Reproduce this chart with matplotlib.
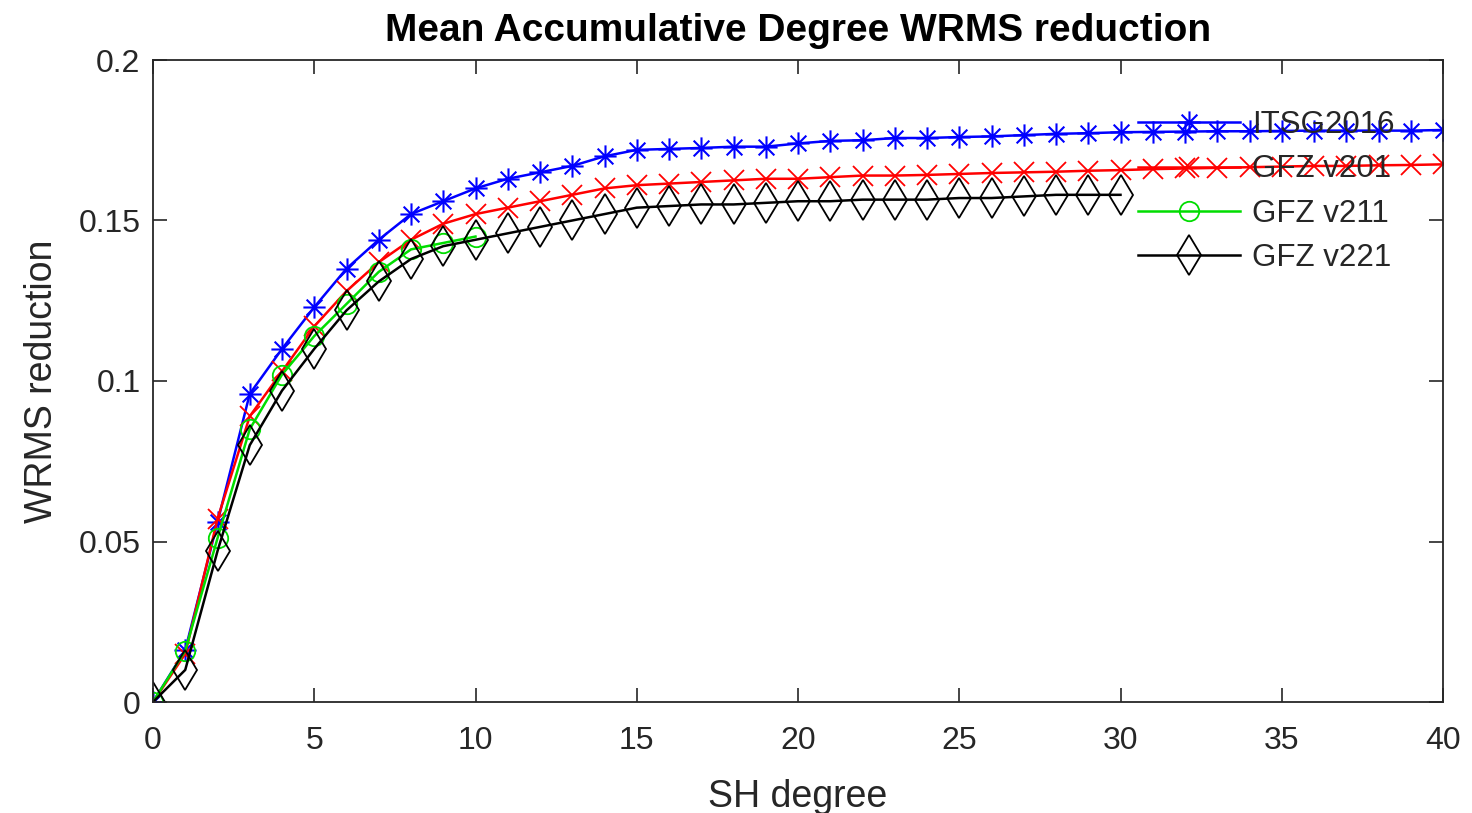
import numpy as np
import matplotlib
matplotlib.use("Agg")
import matplotlib.pyplot as plt
from matplotlib.path import Path

plt.rcParams['font.family'] = ['Liberation Sans', 'DejaVu Sans']

degree_itsg = list(range(0, 41))
itsg2016 = [0.0, 0.0162, 0.056, 0.096, 0.110, 0.123, 0.135, 0.144, 0.152, 0.156,
            0.160, 0.163, 0.165, 0.167, 0.170, 0.172, 0.1723, 0.1726, 0.173, 0.173,
            0.174, 0.1748, 0.175, 0.1757, 0.1757, 0.176, 0.1762, 0.1766, 0.177, 0.1772,
            0.1775, 0.1776, 0.1777, 0.1778, 0.1778, 0.1779, 0.178, 0.178, 0.178, 0.178, 0.1782]

degree_v201 = list(range(0, 41))
gfz_v201 = [0.0, 0.015, 0.057, 0.089, 0.103, 0.117, 0.128, 0.137, 0.144, 0.149,
            0.152, 0.154, 0.156, 0.158, 0.160, 0.161, 0.1615, 0.162, 0.1625, 0.163,
            0.163, 0.1635, 0.164, 0.164, 0.1642, 0.1645, 0.1648, 0.165, 0.1652, 0.1655,
            0.1657, 0.166, 0.1662, 0.1664, 0.1666, 0.1668, 0.167, 0.167, 0.1672, 0.1673, 0.1675]

degree_v211 = list(range(0, 11))
gfz_v211 = [0.0, 0.016, 0.051, 0.085, 0.102, 0.114, 0.124, 0.134, 0.141, 0.143, 0.145]

degree_v221 = list(range(0, 31))
gfz_v221 = [0.0, 0.010, 0.047, 0.080, 0.097, 0.110, 0.122, 0.131, 0.138, 0.142,
            0.144, 0.146, 0.148, 0.150, 0.152, 0.154, 0.1545, 0.155, 0.155, 0.1555,
            0.156, 0.156, 0.1565, 0.1565, 0.1565, 0.157, 0.157, 0.1575, 0.158, 0.158, 0.158]

labels = ['ITSG2016', 'GFZ v201', 'GFZ v211', 'GFZ v221']
title = 'Mean Accumulative Degree WRMS reduction'
xlabel = 'SH degree'
ylabel = 'WRMS reduction'
xticks = [0, 5, 10, 15, 20, 25, 30, 35, 40]
yticks = [0, 0.05, 0.1, 0.15, 0.2]
yticklabels = ['0', '0.05', '0.1', '0.15', '0.2']

# MATLAB-style asterisk marker
d = 0.7071
asterisk = Path(
    [(-1, 0), (1, 0), (0, -1), (0, 1), (-d, -d), (d, d), (-d, d), (d, -d)],
    [Path.MOVETO, Path.LINETO] * 4)

fig = plt.figure(figsize=(14.72, 8.13), dpi=100)
ax = fig.add_axes([153 / 1472, 111 / 813, 1290 / 1472, 642 / 813])

lw = 1.8
ax.plot(degree_itsg, itsg2016, color='#0000ff', lw=lw, marker=asterisk,
        markersize=16, markerfacecolor='none', markeredgewidth=1.5, label=labels[0])
ax.plot(degree_v201, gfz_v201, color='#ff0000', lw=lw, marker='x',
        markersize=14, markeredgewidth=1.3, label=labels[1])
ax.plot(degree_v211, gfz_v211, color='#00dd00', lw=lw, marker='o',
        markersize=14, markerfacecolor='none', markeredgewidth=1.3, label=labels[2])
ax.plot(degree_v221, gfz_v221, color='black', lw=lw, marker='d',
        markersize=20, markerfacecolor='none', markeredgewidth=1.3, label=labels[3])

ax.set_xlim(0, 40)
ax.set_ylim(0, 0.2)
ax.set_xticks(xticks)
ax.set_yticks(yticks)
ax.set_yticklabels(yticklabels)
ax.tick_params(direction='in', length=10, width=1.2, top=True, right=True,
               labelsize=23, colors='#262626')
ax.tick_params(axis='x', pad=17)
ax.tick_params(axis='y', pad=9)
for s in ax.spines.values():
    s.set_linewidth(1.3)
    s.set_color('#262626')

ax.set_title(title, fontsize=28, fontweight='bold', pad=14)
ax.set_xlabel(xlabel, fontsize=27, color='#262626', labelpad=17)
ax.set_ylabel(ylabel, fontsize=27, color='#262626', labelpad=13)

leg = ax.legend(loc='upper left', bbox_to_anchor=(0.7636, 0.922), frameon=False,
                fontsize=22.5, handlelength=3.26, handletextpad=0.4, labelspacing=0.46,
                borderpad=0, borderaxespad=0)
for t in leg.get_texts():
    t.set_color('#262626')

fig.savefig('out.png', dpi=100)
